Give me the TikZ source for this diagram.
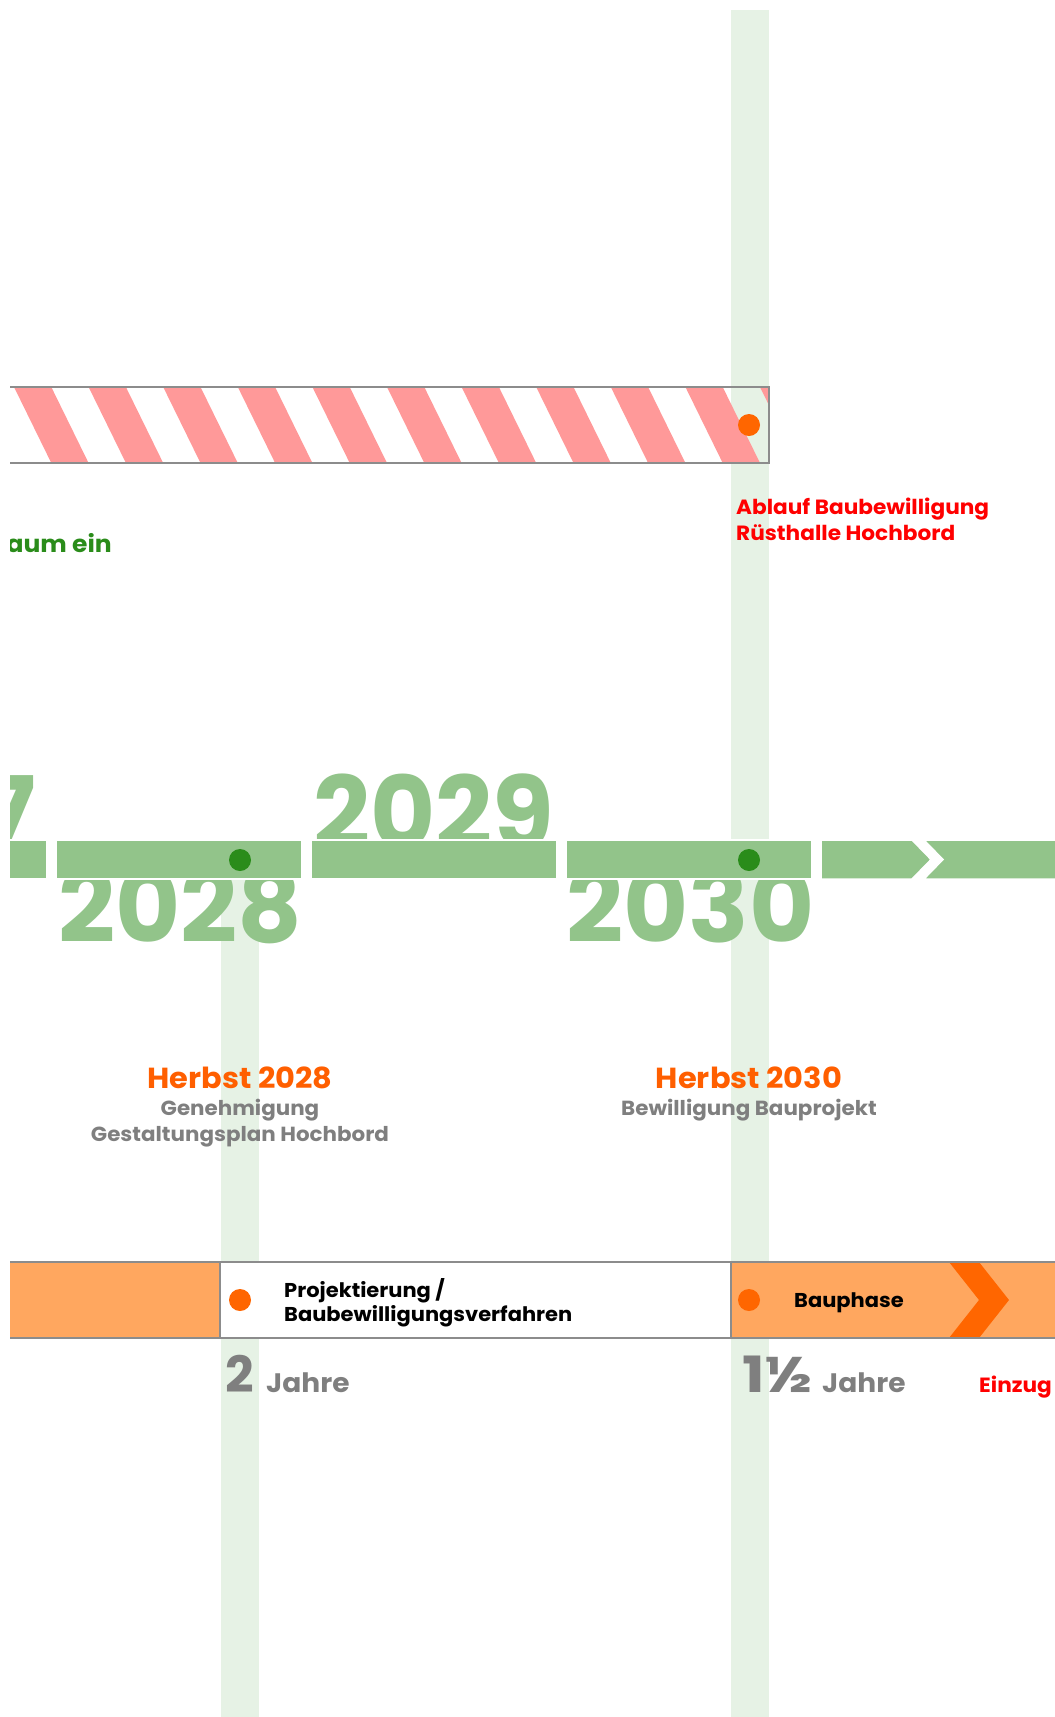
\documentclass[tikz,border=0pt]{standalone}
\usepackage{fontspec}
\setmainfont{Poppins}
\newfontfamily\labelfont[FakeStretch=1.05]{Poppins}
\usepackage{xcolor}
\usetikzlibrary{positioning}
\usetikzlibrary{calc}

\definecolor{bargreen}{HTML}{92C48A}
\definecolor{dotgreen}{HTML}{2A8C1A}
\definecolor{bandgreen}{HTML}{E6F2E5}
\definecolor{stripepink}{HTML}{FF9999}
\definecolor{dotorange}{HTML}{FF6600}
\definecolor{barorange}{HTML}{FFA75F}
\definecolor{textorange}{HTML}{FF5F00}
\definecolor{textgray}{HTML}{7F7F7F}
\definecolor{textred}{HTML}{FF0000}
\definecolor{framegray}{HTML}{8C8C8C}

\begin{document}
\begin{tikzpicture}[x=1pt, y=-1pt]
% tikz settings
\tikzstyle{band} = [fill=bandgreen]
\tikzstyle{segment} = [fill=bargreen, draw=white, line width=1.5pt]
\tikzstyle{frame} = [draw=framegray, line width=1.5pt]
\tikzstyle{dot} = [circle, inner sep=0pt, minimum size=22pt]
\tikzstyle{txt} = [inner sep=0pt, font=\bfseries]
\tikzstyle{year} = [txt, anchor=base west, text=bargreen, font=\fontsize{100}{100}\selectfont\bfseries]
\tikzstyle{milestone} = [txt, anchor=base, text=textorange, font=\fontsize{29}{29}\labelfont\bfseries]
\tikzstyle{note} = [txt, anchor=base, text=textgray, font=\fontsize{20.4}{20.4}\labelfont\bfseries]
\tikzstyle{phase} = [txt, anchor=base west, text=black, font=\fontsize{20}{20}\labelfont\bfseries]
\tikzstyle{redlabel} = [txt, anchor=base west, text=textred, font=\fontsize{20.6}{20.6}\labelfont\bfseries]
\tikzstyle{duration} = [txt, anchor=base west, text=textgray, font=\fontsize{26.7}{26.7}\labelfont\bfseries]
\tikzstyle{bignum} = [txt, anchor=base west, text=textgray, font=\fontsize{50}{50}\selectfont\bfseries]

\useasboundingbox (0,0) rectangle (1055,1717);
\begin{scope}
\clip (10,0) rectangle (1055,1717);

% bands behind everything
\fill[band] (731,10) rectangle (769,1717);
\fill[band] (221,860) rectangle (259,1717);

% striped bar
\begin{scope}
\clip (10,387) rectangle (769,463);
\foreach \k in {-1,...,9}
  \fill[stripepink] ({88.6+74.6*\k},387) -- ++(37.3,0) -- ++(37.3,76) -- ++(-37.3,0) -- cycle;
\end{scope}
\draw[frame] (10,387) -- (769,387) -- (769,463) -- (10,463);
\node[dot, fill=dotorange] (ablaufdot) at (749,425) {};

\node[redlabel] (ablaufA) at (736,514) {Ablauf Baubewilligung};
\node[redlabel] (ablaufB) at (736,540) {Rüsthalle Hochbord};
\node[txt, anchor=base east, text=dotgreen, font=\fontsize{23.8}{23.8}\labelfont\bfseries] (zeitraum) at (112,552) {raum ein};

% years
\node[year] (y2027) at (-197,848) {2027};
\node[year] (y2028) at (58,942) {2028};
\node[year] (y2029) at (313,848) {2029};
\node[year] (y2030) at (566,942) {2030};

% timeline
\foreach \i in {0,...,3}
  \draw[segment] ({-199+255*\i},840) rectangle ({47+255*\i},879);
\draw[segment] (821,840) -- (912,840) -- (931,859.5) -- (912,879) -- (821,879) -- cycle;
\draw[segment] (924,840) -- (1060,840) -- (1060,879) -- (924,879) -- (943,859.5) -- cycle;
\node[dot, fill=dotgreen] (dot2028) at (240,860) {};
\node[dot, fill=dotgreen] (dot2030) at (749,860) {};

% milestones
\node[milestone] (herbstA) at (240,1088) {Herbst 2028};
\node[note] (genehmigung) at (240,1115) {Genehmigung};
\node[note] (gestaltungsplan) at (240,1141) {Gestaltungsplan Hochbord};
\node[milestone] (herbstB) at (749,1088) {Herbst 2030};
\node[note] (bewilligung) at (749,1115) {Bewilligung Bauprojekt};

% phases
\fill[barorange] (10,1262) rectangle (220,1338);
\fill[white] (220,1262) rectangle (731,1338);
\fill[barorange] (731,1262) rectangle (1060,1338);
\fill[dotorange] (949,1262) -- (979,1262) -- (1009,1300) -- (979,1338) -- (949,1338) -- (979,1300) -- cycle;
\draw[frame] (10,1262) -- (1060,1262);
\draw[frame] (10,1338) -- (1060,1338);
\draw[frame] (220,1262) -- (220,1338);
\draw[frame] (731,1262) -- (731,1338);
\node[dot, fill=dotorange] (projdot) at (240,1300) {};
\node[dot, fill=dotorange] (baudot) at (749,1300) {};
\node[phase] (projA) at (284,1297) {Projektierung /};
\node[phase] (projB) at (284,1321) {Baubewilligungsverfahren};
\node[phase] (bauphase) at (794,1307) {Bauphase};

% durations
\node[bignum] (zwei) at (225,1392) {2};
\node[duration] (jahreA) at (266,1392) {Jahre};
\node[bignum] (anderthalb) at (742,1392) {\scalebox{1.2}[1]{1½}};
\node[duration] (jahreB) at (822,1392) {Jahre};
\node[redlabel] (einzug) at (979,1392) {Einzug};
\end{scope}
\end{tikzpicture}
\end{document}
